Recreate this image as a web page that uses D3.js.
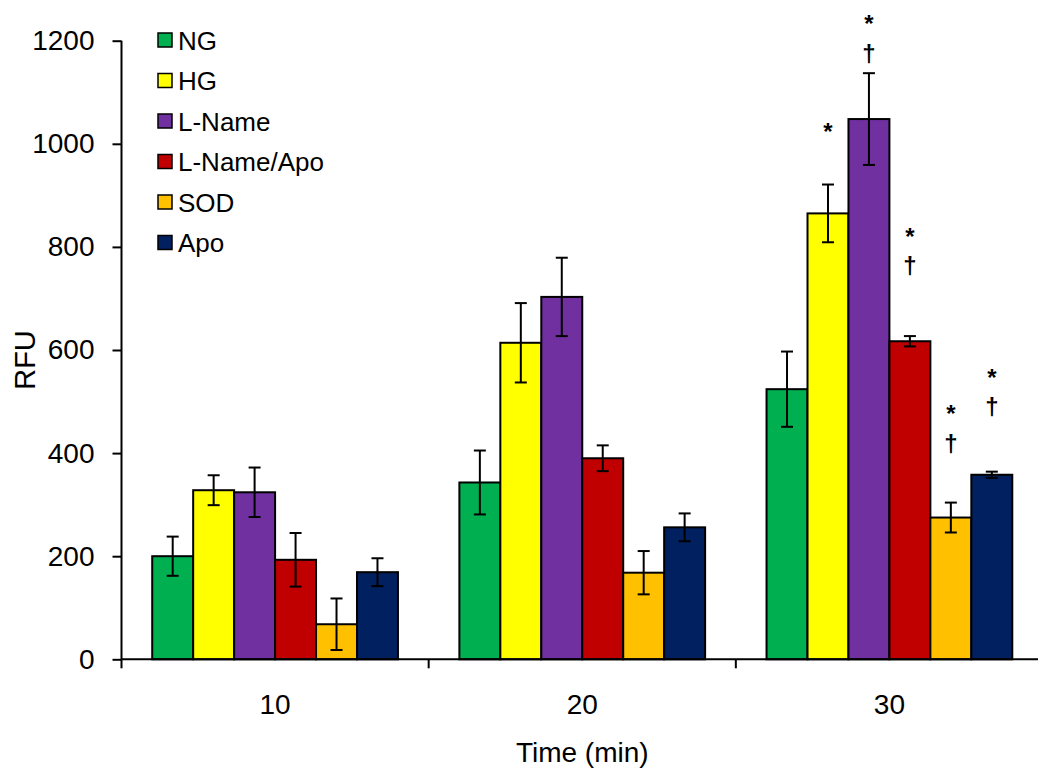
<!DOCTYPE html>
<html>
<head>
<meta charset="utf-8">
<script src="https://cdn.jsdelivr.net/npm/d3@7"></script>
<style>
  html, body { margin: 0; padding: 0; background: #fff; }
  svg { display: block; font-family: "Liberation Sans", Arial, sans-serif; }
</style>
</head>
<body>
<svg id="chart" width="1038" height="780"></svg>
<script>
// Time points (min) and treatment groups
const times = ["10", "20", "30"];
const series = ["NG", "HG", "L-Name", "L-Name/Apo", "SOD", "Apo"];
const colors = ["#00B050", "#FFFF00", "#7030A0", "#C00000", "#FFC000", "#002060"];

// Mean RFU per group, one array per time point (order follows `series`)
const means10 = [200, 328, 324, 193, 68, 169];
const means20 = [343, 614, 703, 390, 168, 256];
const means30 = [524, 865, 1048, 617, 275, 358];

// Error bar half-widths
const err10 = [38, 29, 48, 52, 50, 27];
const err20 = [62, 77, 76, 25, 42, 27];
const err30 = [73, 56, 89, 10, 29, 6];

const yTicks = [0, 200, 400, 600, 800, 1000, 1200];

// Significance marks: series, time, symbol, height (RFU) of the symbol
const sigSeries = ["HG", "L-Name", "L-Name", "L-Name/Apo", "L-Name/Apo", "SOD", "SOD", "Apo", "Apo"];
const sigTime   = ["30", "30", "30", "30", "30", "30", "30", "30", "30"];
const sigSymbol = ["*", "*", "\u2020", "*", "\u2020", "*", "\u2020", "*", "\u2020"];
const sigLevel  = [1036, 1244, 1172, 832, 762, 488, 417, 558, 487];

const meansByTime = [means10, means20, means30];
const errByTime = [err10, err20, err30];
const rows = [];
times.forEach((t, i) => {
  series.forEach((s, j) => {
    rows.push({ time: t, series: s, value: meansByTime[i][j], err: errByTime[i][j], color: colors[j] });
  });
});

const svg = d3.select("#chart");
const plotLeft = 121.5, plotRight = 1043, plotTop = 40.7, plotBottom = 659.3;

const x0 = d3.scaleBand().domain(times).range([plotLeft, plotRight]).padding(0);
const bw = x0.bandwidth();
const barW = bw / 7.5;
const x1 = d3.scaleBand().domain(series)
  .range([(bw - 6 * barW) / 2, (bw + 6 * barW) / 2]).padding(0);
const y = d3.scaleLinear().domain([0, 1200]).range([plotBottom, plotTop]);

// Bars
svg.append("g").selectAll("rect").data(rows).join("rect")
  .attr("x", d => x0(d.time) + x1(d.series))
  .attr("y", d => y(d.value))
  .attr("width", x1.bandwidth())
  .attr("height", d => y(0) - y(d.value))
  .attr("fill", d => d.color)
  .attr("stroke", "#000")
  .attr("stroke-width", 2);

// Error bars
const eb = svg.append("g").attr("stroke", "#000").attr("stroke-width", 2);
rows.forEach(d => {
  const cx = x0(d.time) + x1(d.series) + x1.bandwidth() / 2;
  const y1 = y(d.value + d.err), y2 = y(d.value - d.err);
  eb.append("line").attr("x1", cx).attr("x2", cx).attr("y1", y1).attr("y2", y2);
  eb.append("line").attr("x1", cx - 6).attr("x2", cx + 6).attr("y1", y1).attr("y2", y1);
  eb.append("line").attr("x1", cx - 6).attr("x2", cx + 6).attr("y1", y2).attr("y2", y2);
});

// Y axis
const yAxis = d3.axisLeft(y).tickValues(yTicks).tickFormat(d3.format("d")).tickSize(9).tickPadding(18);
const gy = svg.append("g").attr("transform", `translate(${plotLeft},0)`).call(yAxis);
gy.select(".domain").attr("stroke", "#000").attr("stroke-width", 2).attr("d", `M0,${plotTop}V${plotBottom}`);
gy.selectAll(".tick line").attr("stroke", "#000").attr("stroke-width", 2);
gy.selectAll(".tick text").attr("fill", "#000").attr("font-size", 28)
  .attr("font-family", "Liberation Sans, Arial, sans-serif");

// X axis: category boundaries carry the tick marks, labels sit at band centres
const gx = svg.append("g").attr("transform", `translate(0,${plotBottom})`);
gx.append("line").attr("x1", plotLeft).attr("x2", 1038).attr("y1", 0).attr("y2", 0)
  .attr("stroke", "#000").attr("stroke-width", 2);
const bounds = times.map(t => x0(t)).concat([plotRight]);
gx.selectAll("line.tk").data(bounds).join("line").attr("class", "tk")
  .attr("x1", d => d).attr("x2", d => d).attr("y1", 0).attr("y2", 9)
  .attr("stroke", "#000").attr("stroke-width", 2);
gx.selectAll("text").data(times).join("text")
  .attr("x", d => x0(d) + bw / 2).attr("y", 55)
  .attr("text-anchor", "middle").attr("font-size", 28).attr("fill", "#000")
  .text(d => d);

// Axis titles
svg.append("text").attr("x", x0("20") + bw / 2).attr("y", 762)
  .attr("text-anchor", "middle").attr("font-size", 28).text("Time (min)");
svg.append("text").attr("transform", "translate(35,360) rotate(-90)")
  .attr("text-anchor", "middle").attr("font-size", 29).text("RFU");

// Significance symbols
const fs = 24;
sigSeries.forEach((s, i) => {
  const cx = x0(sigTime[i]) + x1(s) + x1.bandwidth() / 2;
  const isStar = sigSymbol[i] === "*";
  svg.append("text")
    .attr("x", cx)
    .attr("y", y(sigLevel[i]) + (isStar ? 0.6 * fs : 0.3 * fs))
    .attr("text-anchor", "middle")
    .attr("font-size", fs)
    .attr("font-weight", "bold")
    .attr("fill", "#000")
    .text(sigSymbol[i]);
});

// Legend
const lg = svg.append("g");
series.forEach((s, i) => {
  const cy = 40 + i * 40.5;
  lg.append("rect").attr("x", 158).attr("y", cy - 7).attr("width", 14).attr("height", 14)
    .attr("fill", colors[i]).attr("stroke", "#000").attr("stroke-width", 1.5);
  lg.append("text").attr("x", 178).attr("y", cy + 9.5).attr("font-size", 26)
    .attr("fill", "#000").text(s);
});
</script>
</body>
</html>
